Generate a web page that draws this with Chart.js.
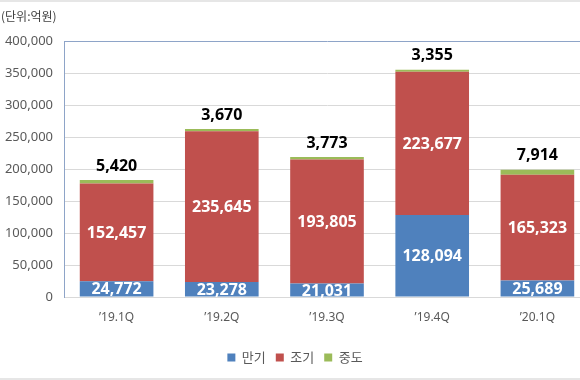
<!DOCTYPE html>
<html>
<head>
<meta charset="utf-8">
<script src="https://cdn.jsdelivr.net/npm/chart.js@4"></script>
<style>
    html, body { margin: 0; padding: 0; background: #fff; overflow: hidden; }
    .frame { width: 580px; height: 380px; overflow: hidden; position: relative; box-sizing: border-box;
             border-top: 2px solid #e6e6e6; border-bottom: 2px solid #e6e6e6; }
    .frame canvas { position: absolute; left: 0; top: -2px; }
</style>
</head>
<body>
<div class="frame">
    <canvas id="chart" width="590" height="380" style="width:590px;height:380px"></canvas>
</div>
<script>
const categories = ['\u201919.1Q', '\u201919.2Q', '\u201919.3Q', '\u201919.4Q', '\u201920.1Q'];
const maturity = [24772, 23278, 21031, 128094, 25689];   // 만기
const early = [152457, 235645, 193805, 223677, 165323];  // 조기
const midway = [5420, 3670, 3773, 3355, 7914];           // 중도
const yTicks = [0, 50000, 100000, 150000, 200000, 250000, 300000, 350000, 400000];

const FONT = '"Noto Sans", "Noto Sans CJK KR", sans-serif';
const fmt = (v) => v.toLocaleString('en-US');

const labelPlugin = {
    id: 'segmentLabels',
    afterDatasetsDraw(chart) {
        const ctx = chart.ctx;
        ctx.save();
        ctx.font = `bold 16px ${FONT}`;
        ctx.textAlign = 'center';
        ctx.textBaseline = 'middle';
        chart.data.datasets.forEach((ds, di) => {
            const meta = chart.getDatasetMeta(di);
            meta.data.forEach((bar, i) => {
                const v = ds.data[i];
                if (di === 2) {
                    ctx.fillStyle = '#000';
                    ctx.fillText(fmt(v), bar.x, bar.y - 14);
                } else {
                    ctx.fillStyle = '#fff';
                    ctx.fillText(fmt(v), bar.x, (bar.y + bar.base) / 2 + 1);
                }
            });
        });
        ctx.font = `12px "Noto Sans CJK KR", sans-serif`;
        ctx.fillStyle = '#404040';
        ctx.textAlign = 'left';
        ctx.fillText('(단위:억원)', 1, 16);
        ctx.restore();
    }
};

new Chart(document.getElementById('chart'), {
    type: 'bar',
    data: {
        labels: categories,
        datasets: [
            { label: '만기', data: maturity, backgroundColor: '#4F81BD' },
            { label: '조기', data: early, backgroundColor: '#C0504D' },
            { label: '중도', data: midway, backgroundColor: '#9BBB59' }
        ]
    },
    options: {
        responsive: false,
        animation: false,
        layout: { padding: { top: 41, left: 0, right: 0, bottom: 6 } },
        datasets: { bar: { barPercentage: 0.7, categoryPercentage: 1 } },
        plugins: {
            legend: {
                position: 'bottom',
                labels: {
                    boxWidth: 8, boxHeight: 8, padding: 10,
                    color: '#595959',
                    font: { family: '"Noto Sans CJK KR", sans-serif', size: 13 }
                }
            },
            tooltip: { enabled: false }
        },
        scales: {
            x: {
                stacked: true,
                grid: { display: false },
                border: { color: '#D9D9D9' },
                ticks: { color: '#595959', padding: 5, font: { family: FONT, size: 12 } },
                afterFit: (scale) => { scale.height = 44; }
            },
            y: {
                stacked: true,
                min: 0, max: 400000,
                afterBuildTicks: (scale) => { scale.ticks = yTicks.map((v) => ({ value: v })); },
                grid: {
                    drawTicks: false,
                    color: (c) => c.tick && c.tick.value === 400000 ? '#8EA4C8' : '#D9D9D9'
                },
                border: { color: '#8EA4C8' },
                ticks: {
                    color: '#595959', padding: 11,
                    font: { family: FONT, size: 13 },
                    callback: (v) => fmt(v)
                },
                afterFit: (scale) => { scale.width = 64; }
            }
        }
    },
    plugins: [labelPlugin]
});
</script>
</body>
</html>
